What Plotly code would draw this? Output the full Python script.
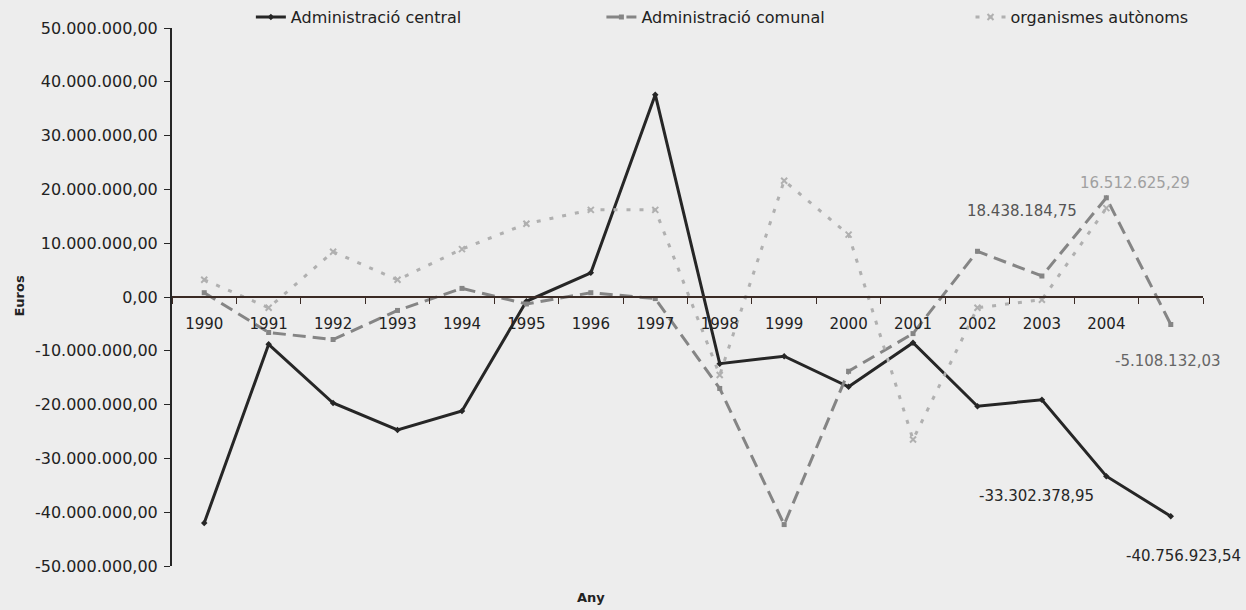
import plotly.graph_objects as go

years = ["1990", "1991", "1992", "1993", "1994", "1995", "1996", "1997",
         "1998", "1999", "2000", "2001", "2002", "2003", "2004", "2005"]
year_labels = ["1990", "1991", "1992", "1993", "1994", "1995", "1996", "1997",
               "1998", "1999", "2000", "2001", "2002", "2003", "2004", ""]

central = [-42.0e6, -8.8e6, -19.7e6, -24.7e6, -21.2e6, -0.8e6, 4.5e6, 37.6e6,
           -12.4e6, -11.0e6, -16.7e6, -8.5e6, -20.3e6, -19.1e6, -33302378.95, -40756923.54]
comunal = [0.8e6, -6.6e6, -7.9e6, -2.5e6, 1.6e6, -1.3e6, 0.8e6, -0.3e6,
           -17.0e6, -42.3e6, -13.8e6, -6.8e6, 8.5e6, 3.9e6, 18438184.75, -5108132.03]
organismes = [3.2e6, -2.0e6, 8.4e6, 3.2e6, 8.9e6, 13.6e6, 16.2e6, 16.2e6,
              -14.5e6, 21.6e6, 11.6e6, -26.5e6, -2.0e6, -0.5e6, 16512625.29, None]

y_ticks = [50e6, 40e6, 30e6, 20e6, 10e6, 0, -10e6, -20e6, -30e6, -40e6, -50e6]
y_tick_labels = ["50.000.000,00", "40.000.000,00", "30.000.000,00", "20.000.000,00",
                 "10.000.000,00", "0,00", "-10.000.000,00", "-20.000.000,00",
                 "-30.000.000,00", "-40.000.000,00", "-50.000.000,00"]

series_names = ["Administració central", "Administració comunal", "organismes autònoms"]

FONT = "DejaVu Sans"
BG = "#ededed"

fig = go.Figure()
fig.add_trace(go.Scatter(
    x=years, y=central, name=series_names[0], mode="lines+markers", legend="legend",
    line=dict(color="#262626", width=3),
    marker=dict(symbol="diamond", size=5, color="#262626"),
))
fig.add_trace(go.Scatter(
    x=years, y=comunal, name=series_names[1], mode="lines+markers", legend="legend2",
    line=dict(color="#858585", width=3, dash="13px,7px"),
    marker=dict(symbol="square", size=5, color="#858585"),
))
fig.add_trace(go.Scatter(
    x=years, y=organismes, name=series_names[2], mode="lines+markers", legend="legend3",
    line=dict(color="#b0b0b0", width=3, dash="4px,9px"),
    marker=dict(symbol="x-thin", size=6, color="#b0b0b0", line=dict(color="#b0b0b0", width=2)),
    connectgaps=False,
))

# data labels (x given as category index)
i04 = years.index("2004")
i05 = years.index("2005")
label_font = dict(family=FONT, size=15)
fig.add_annotation(x=i04, y=comunal[i04], text="18.438.184,75", showarrow=False,
                   xanchor="right", yanchor="middle", xshift=-27, yshift=-13,
                   font=dict(label_font, color="#555555"))
fig.add_annotation(x=i04, y=organismes[i04], text="16.512.625,29", showarrow=False,
                   xanchor="center", yanchor="middle", xshift=29, yshift=25,
                   font=dict(label_font, color="#a0a0a0"))
fig.add_annotation(x=i05, y=comunal[i05], text="-5.108.132,03", showarrow=False,
                   xanchor="center", yanchor="middle", xshift=-3, yshift=-37,
                   font=dict(label_font, color="#666666"))
fig.add_annotation(x=i04, y=central[i04], text="-33.302.378,95", showarrow=False,
                   xanchor="right", yanchor="middle", xshift=-10, yshift=-20,
                   font=dict(label_font, color="#262626"))
fig.add_annotation(x=i05, y=central[i05], text="-40.756.923,54", showarrow=False,
                   xanchor="center", yanchor="middle", xshift=13, yshift=-40,
                   font=dict(label_font, color="#262626"))

# axis titles
fig.add_annotation(x=-0.157, y=0.502, xref="paper", yref="paper", text="<b>Euros</b>",
                   textangle=-90, showarrow=False, font=dict(family=FONT, size=13, color="#222"))
fig.add_annotation(x=0.406, y=-0.077, xref="paper", yref="paper", text="<b>Any</b>",
                   showarrow=False, font=dict(family=FONT, size=13, color="#222"))

legend_common = dict(orientation="h", yref="container", y=0.972, xanchor="left",
                     yanchor="middle", bgcolor="rgba(0,0,0,0)",
                     font=dict(family=FONT, size=16, color="#222"))

fig.update_layout(
    width=1246, height=610,
    margin=dict(l=172, r=43, t=28, b=44, autoexpand=False),
    paper_bgcolor=BG, plot_bgcolor=BG,
    font=dict(family=FONT, size=14, color="#222222"),
    showlegend=True,
    legend=dict(legend_common, x=0.0765),
    legend2=dict(legend_common, x=0.4165),
    legend3=dict(legend_common, x=0.7745),
    xaxis=dict(type="category", range=[-0.5, 15.5],
               tickmode="array", tickvals=years, ticktext=year_labels,
               anchor="free", position=0.5, showline=True, linecolor="#3b2b25", linewidth=2,
               ticks="outside", tickson="boundaries", ticklen=6, tickcolor="#3b2b25",
               ticklabelstandoff=13,
               showgrid=False, zeroline=False, tickfont=dict(family=FONT, size=15, color="#222")),
    yaxis=dict(range=[-50e6, 50e6], tickmode="array", tickvals=y_ticks, ticktext=y_tick_labels,
               showline=True, linecolor="#262626", linewidth=2, ticks="outside", ticklen=6,
               ticklabelstandoff=3,
               tickcolor="#262626", showgrid=False, zeroline=False,
               tickfont=dict(family=FONT, size=16, color="#222")),
)

fig.write_html("out.html", config={"displayModeBar": False},
               post_script="document.body.style.margin='0';document.body.style.background='#ededed';")
